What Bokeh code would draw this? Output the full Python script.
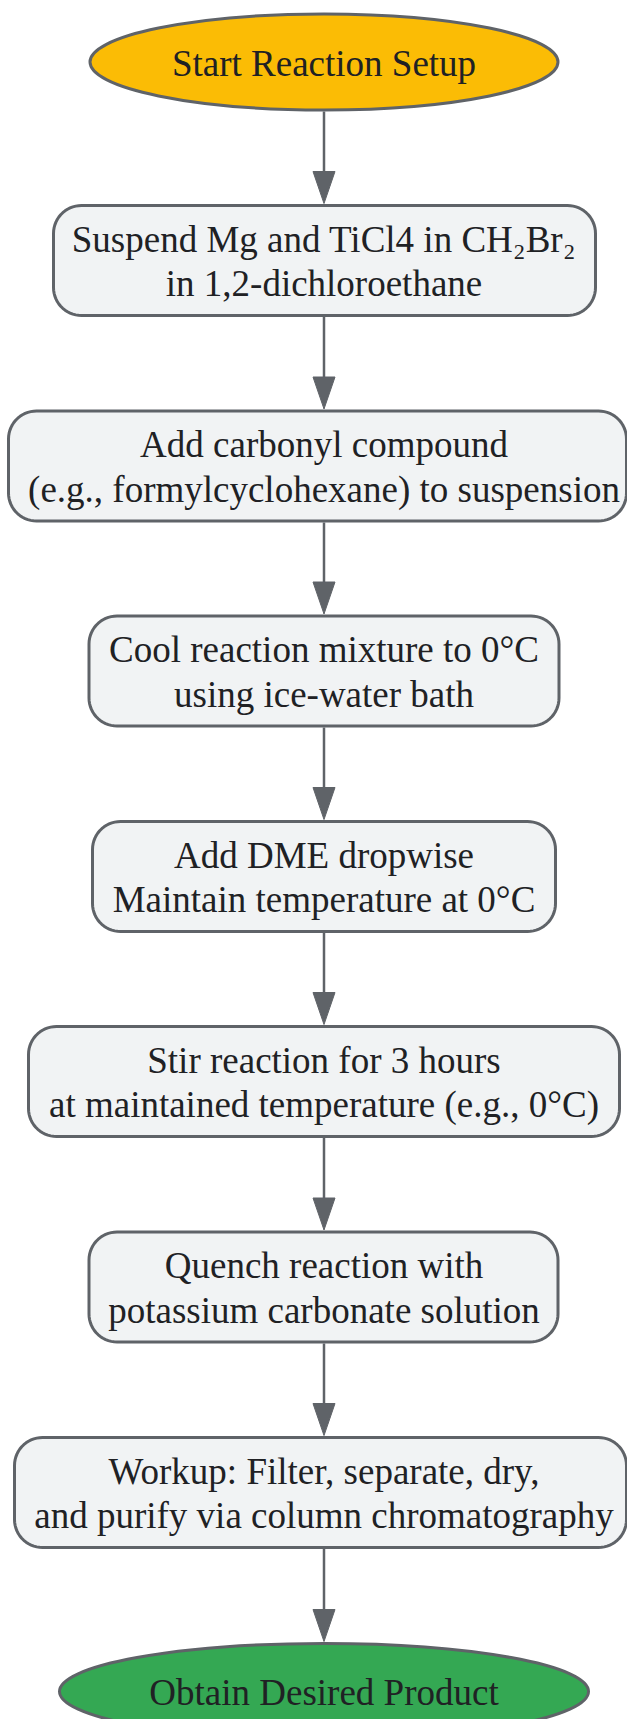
import numpy as np
from bokeh.plotting import figure
from bokeh.models import Range1d
from bokeh.core.properties import value
from bokeh.embed import file_html
from bokeh.resources import INLINE

# ---- content ----
labels = [
    "Start Reaction Setup",
    "Suspend Mg and TiCl4 in CH\u2082Br\u2082\nin 1,2-dichloroethane",
    "Add carbonyl compound\n(e.g., formylcyclohexane) to suspension",
    "Cool reaction mixture to 0\u00b0C\nusing ice-water bath",
    "Add DME dropwise\nMaintain temperature at 0\u00b0C",
    "Stir reaction for 3 hours\nat maintained temperature (e.g., 0\u00b0C)",
    "Quench reaction with\npotassium carbonate solution",
    "Workup: Filter, separate, dry,\nand purify via column chromatography",
    "Obtain Desired Product",
]
kinds = ["start", "step", "step", "step", "step", "step", "step", "step", "end"]

# ---- layout (pixels) ----
cx = 323.5
cy = [61.5, 260, 465.5, 670.5, 876, 1081, 1286.5, 1492, 1691]
box_left = [89.5, 53, 8, 88.5, 92, 28, 88.5, 14, 59]
box_right = [557.5, 595, 626, 558.5, 555, 619, 557.5, 626, 588]
heights = [96, 110, 110, 110, 110, 110, 110, 110, 96]
fills = {"start": "#FBBC05", "step": "#F1F3F4", "end": "#34A853"}
edge = "#5F6368"
txt_color = "#202124"
radius = 28
font = "Liberation Serif"
fsize = "37px"
line_pitch = 44.5

p = figure(width=627, height=1719, output_backend="svg", toolbar_location=None,
           x_range=Range1d(0, 627), y_range=Range1d(1719, 0),
           min_border=0, background_fill_color="white", border_fill_color="white")
p.axis.visible = False
p.grid.visible = False
p.outline_line_color = None

# ellipses
ell = [i for i, k in enumerate(kinds) if k != "step"]
p.ellipse(x=[(box_left[i] + box_right[i]) / 2 for i in ell], y=[cy[i] for i in ell],
          width=[box_right[i] - box_left[i] for i in ell], height=[heights[i] for i in ell],
          fill_color=[fills[kinds[i]] for i in ell], line_color=edge, line_width=3)

# rounded boxes
def rounded(x0, x1, yc, h, r):
    xs, ys = [], []
    corners = [(x1 - r, yc - h / 2 + r, -np.pi / 2, 0),
               (x1 - r, yc + h / 2 - r, 0, np.pi / 2),
               (x0 + r, yc + h / 2 - r, np.pi / 2, np.pi),
               (x0 + r, yc - h / 2 + r, np.pi, 1.5 * np.pi)]
    for (ox, oy, a0, a1) in corners:
        t = np.linspace(a0, a1, 16)
        xs.extend(ox + r * np.cos(t))
        ys.extend(oy + r * np.sin(t))
    return xs, ys

bxs, bys = [], []
steps = [i for i, k in enumerate(kinds) if k == "step"]
for i in steps:
    a, b = rounded(box_left[i], box_right[i], cy[i], heights[i], radius)
    bxs.append(a)
    bys.append(b)
p.patches(xs=bxs, ys=bys, fill_color=fills["step"], line_color=edge, line_width=3)

# arrows
head_len, head_w = 32, 22
x0s, y0s, x1s, y1s, hx, hy = [], [], [], [], [], []
for i in range(len(labels) - 1):
    start_y = cy[i] + heights[i] / 2 + 1.5
    tip_y = cy[i + 1] - heights[i + 1] / 2 - 2
    x0s.append(cx); y0s.append(start_y)
    x1s.append(cx); y1s.append(tip_y - head_len + 2)
    hx.append([cx - head_w / 2, cx + head_w / 2, cx])
    hy.append([tip_y - head_len, tip_y - head_len, tip_y])
p.segment(x0=x0s, y0=y0s, x1=x1s, y1=y1s, line_color=edge, line_width=2.5)
p.patches(xs=hx, ys=hy, fill_color=edge, line_color=edge, line_width=1)

# texts
tx, ty, tt = [], [], []
for i, lab in enumerate(labels):
    lines = lab.split("\n")
    n = len(lines)
    for j, ln in enumerate(lines):
        tx.append(cx)
        ty.append(cy[i] + (j - (n - 1) / 2) * line_pitch + 1)
        tt.append(ln)
p.text(x=tx, y=ty, text=tt, text_font=value(font), text_font_size=fsize,
       text_color=txt_color, text_align="center", text_baseline="middle")

open("out.html", "w").write(file_html(p, INLINE))
